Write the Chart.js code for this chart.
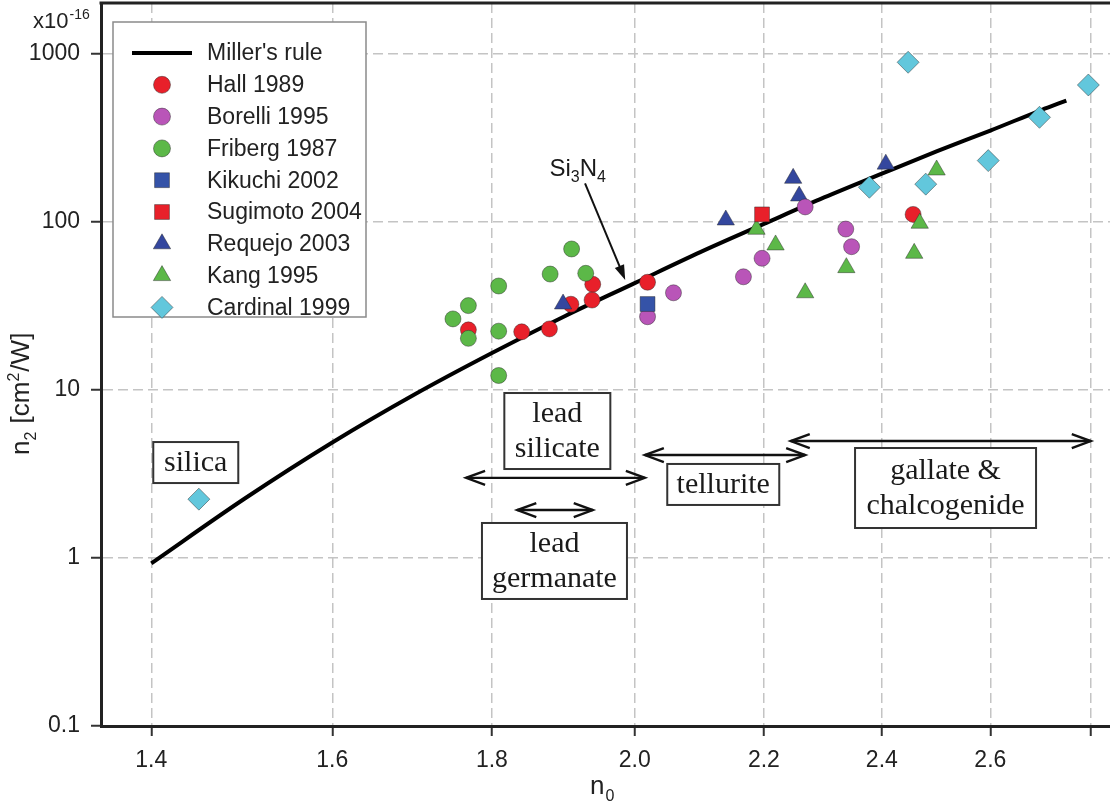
<!DOCTYPE html>
<html><head><meta charset="utf-8">
<script src="https://cdn.jsdelivr.net/npm/chart.js@4.4.1/dist/chart.umd.min.js"></script>
<style>html,body{margin:0;padding:0;background:#fff;overflow:hidden}canvas{display:block}</style>
</head><body>
<canvas id="c" width="1110" height="803"></canvas>
<script>
// ---------- data ----------
const xTicks = [1.4, 1.6, 1.8, 2.0, 2.2, 2.4, 2.6, 2.8];
const xTickLabels = ['1.4', '1.6', '1.8', '2.0', '2.2', '2.4', '2.6', ''];
const yTicks = [0.1, 1, 10, 100, 1000];
const yTickLabels = ['0.1', '1', '10', '100', '1000'];

const millerN0 = [1.4, 1.5, 1.6, 1.7, 1.8, 1.9, 2.0, 2.1, 2.2, 2.3, 2.4, 2.5, 2.6, 2.7, 2.75];
const millerN2 = [0.93, 2.26, 4.87, 9.4, 16.6, 27.6, 43.3, 66.4, 97.4, 140, 194, 264, 350, 464, 528];

const hallN0 = [1.769, 1.840, 1.878, 1.908, 1.939, 1.938, 2.019, 2.456];
const hallN2 = [22.8, 22.2, 23.1, 32.4, 42.6, 34.3, 43.8, 111];
const borelliN0 = [2.019, 2.058, 2.167, 2.197, 2.268, 2.337, 2.347];
const borelliN2 = [27.3, 37.9, 47.2, 60.8, 123, 90.8, 71.3];
const fribergN0 = [1.909, 1.879, 1.929, 1.809, 1.769, 1.749, 1.809, 1.769, 1.809];
const fribergN2 = [69.1, 49.0, 49.5, 41.6, 31.8, 26.5, 22.4, 20.3, 12.2];
const kikuchiN0 = [2.019];
const kikuchiN2 = [32.5];
const sugimotoN0 = [2.197];
const sugimotoN2 = [111];
const requejoN0 = [1.897, 2.139, 2.248, 2.258, 2.407];
const requejoN2 = [32.5, 102.8, 182, 142.8, 221];
const kangN0 = [2.188, 2.219, 2.268, 2.338, 2.458, 2.468, 2.499];
const kangN2 = [90.5, 73.0, 37.9, 53.5, 65.1, 98.3, 204];
const cardinalN0 = [1.450, 2.378, 2.479, 2.596, 2.696, 2.795, 2.447];
const cardinalN2 = [2.24, 161, 168, 232, 420, 654, 893];

// ---------- styling / layout ----------
const SANS = "'Liberation Sans', Arial, sans-serif";
const SERIF = "'Liberation Serif', 'Times New Roman', serif";
const X_MIN = 1.349, X_MAX = 2.84, Y_MIN = 0.1, Y_MAX = 2012;
const AREA = {left: 101, right: 1110, top: 3, bottom: 726};

const pts = (xs, ys) => xs.map((v, i) => ({x: v, y: ys[i]}));

function scatterSet(label, xs, ys, style, color, radius, order) {
  return {
    type: 'scatter', label, data: pts(xs, ys), pointStyle: style,
    backgroundColor: color, borderColor: 'rgba(40,40,40,0.45)', borderWidth: 1,
    pointRadius: radius, pointHoverRadius: radius, order
  };
}

const datasets = [
  {type: 'line', label: "Miller's rule", data: pts(millerN0, millerN2), borderColor: '#000',
   backgroundColor: '#000', borderWidth: 4, pointRadius: 0, fill: false,
   cubicInterpolationMode: 'monotone', order: 20},
  scatterSet('Hall 1989', hallN0, hallN2, 'circle', '#e8202a', 8, 9),
  scatterSet('Borelli 1995', borelliN0, borelliN2, 'circle', '#b955b8', 8, 7),
  scatterSet('Friberg 1987', fribergN0, fribergN2, 'circle', '#5cb848', 8, 6),
  scatterSet('Kikuchi 2002', kikuchiN0, kikuchiN2, 'rect', '#3553a8', 10.5, 4),
  scatterSet('Sugimoto 2004', sugimotoN0, sugimotoN2, 'rect', '#e8202a', 10.5, 3),
  scatterSet('Requejo 2003', requejoN0, requejoN2, 'triangle', '#34479e', 10, 8),
  scatterSet('Kang 1995', kangN0, kangN2, 'triangle', '#5cb848', 10, 5),
  scatterSet('Cardinal 1999', cardinalN0, cardinalN2, 'rectRot', '#62c7dc', 11, 2)
];

// annotation boxes / arrows placed in data coordinates
const annoBoxes = [
  {lines: ['silica'], n0: 1.4467, n2: 3.70, w: 85, h: 41},
  {lines: ['lead', 'silicate'], n0: 1.889, n2: 5.70, w: 106, h: 76},
  {lines: ['lead', 'germanate'], n0: 1.885, n2: 0.96, w: 145, h: 76},
  {lines: ['tellurite'], n0: 2.135, n2: 2.74, w: 112, h: 41},
  {lines: ['gallate &', 'chalcogenide'], n0: 2.5155, n2: 2.61, w: 181, h: 80}
];
const annoArrows = [
  {from: 1.766, to: 2.015, n2: 3.0},
  {from: 1.834, to: 1.939, n2: 1.93},
  {from: 2.015, to: 2.268, n2: 4.1},
  {from: 2.244, to: 2.80, n2: 4.97}
];
const si3n4 = {labelN0: 1.878, labelN2: 188, tailN0: 1.928, tailN2: 170, tipN0: 1.986, tipN2: 45.2};

function drawMarker(ctx, style, x, y, r, fill) {
  ctx.save();
  ctx.fillStyle = fill; ctx.strokeStyle = 'rgba(40,40,40,0.45)'; ctx.lineWidth = 1;
  ctx.beginPath();
  if (style === 'circle') ctx.arc(x, y, r, 0, Math.PI * 2);
  else if (style === 'rect') { const s = r * Math.SQRT1_2; ctx.rect(x - s, y - s, 2 * s, 2 * s); }
  else if (style === 'triangle') {
    for (let k = 0; k < 3; k++) {
      const a = k * 2 * Math.PI / 3;
      const px = x + Math.sin(a) * r, py = y - Math.cos(a) * r;
      k ? ctx.lineTo(px, py) : ctx.moveTo(px, py);
    }
    ctx.closePath();
  } else if (style === 'rectRot') {
    ctx.moveTo(x, y - r); ctx.lineTo(x + r, y); ctx.lineTo(x, y + r); ctx.lineTo(x - r, y); ctx.closePath();
  }
  ctx.fill(); ctx.stroke();
  ctx.restore();
}

function openHead(ctx, x, y, dir) {
  ctx.beginPath();
  ctx.moveTo(x - dir * 19, y - 7); ctx.lineTo(x, y); ctx.lineTo(x - dir * 19, y + 7);
  ctx.stroke();
}

// pin the plot area to the reference frame
const pinArea = {
  id: 'pinArea',
  afterLayout(chart) {
    const a = chart.chartArea;
    a.left = AREA.left; a.right = AREA.right; a.top = AREA.top; a.bottom = AREA.bottom;
    a.width = AREA.right - AREA.left; a.height = AREA.bottom - AREA.top;
    const xs = chart.scales.x, ys = chart.scales.y;
    xs.left = AREA.left; xs.right = AREA.right; xs.width = a.width;
    xs.top = AREA.bottom; xs.bottom = chart.height; xs.height = chart.height - AREA.bottom;
    ys.left = 0; ys.right = AREA.left; ys.width = AREA.left;
    ys.top = AREA.top; ys.bottom = AREA.bottom; ys.height = a.height;
    xs.configure(); ys.configure();
  }
};

const overlay = {
  id: 'overlay',
  afterDraw(chart) {
    const ctx = chart.ctx, a = chart.chartArea, xs = chart.scales.x, ys = chart.scales.y;
    ctx.save();
    // top frame line
    ctx.strokeStyle = '#222'; ctx.lineWidth = 3;
    ctx.beginPath(); ctx.moveTo(a.left - 1.5, a.top); ctx.lineTo(a.right, a.top); ctx.stroke();

    // double arrows
    ctx.strokeStyle = '#111'; ctx.lineWidth = 2.4;
    annoArrows.forEach(ar => {
      const x1 = xs.getPixelForValue(ar.from), x2 = xs.getPixelForValue(ar.to), y = ys.getPixelForValue(ar.n2);
      ctx.beginPath(); ctx.moveTo(x1, y); ctx.lineTo(x2, y); ctx.stroke();
      openHead(ctx, x1, y, -1); openHead(ctx, x2, y, 1);
    });

    // boxes with serif text
    annoBoxes.forEach(b => {
      const cx = xs.getPixelForValue(b.n0), cy = ys.getPixelForValue(b.n2);
      ctx.fillStyle = '#fff'; ctx.fillRect(cx - b.w / 2, cy - b.h / 2, b.w, b.h);
      ctx.strokeStyle = '#333'; ctx.lineWidth = 2;
      ctx.strokeRect(cx - b.w / 2, cy - b.h / 2, b.w, b.h);
      ctx.fillStyle = '#1a1a1a'; ctx.font = '30px ' + SERIF;
      ctx.textAlign = 'center'; ctx.textBaseline = 'middle';
      const lh = 35, n = b.lines.length;
      b.lines.forEach((t, i) => ctx.fillText(t, cx, cy + (i - (n - 1) / 2) * lh + 1));
    });

    // Si3N4 label and arrow
    {
      let x = xs.getPixelForValue(si3n4.labelN0), y = ys.getPixelForValue(si3n4.labelN2);
      ctx.fillStyle = '#1a1a1a'; ctx.textAlign = 'left'; ctx.textBaseline = 'alphabetic';
      const parts = [['Si', 24, 0], ['3', 16, 6], ['N', 24, 0], ['4', 16, 6]];
      parts.forEach(p => { ctx.font = p[1] + 'px ' + SANS; ctx.fillText(p[0], x, y + p[2]); x += ctx.measureText(p[0]).width; });
      const tx = xs.getPixelForValue(si3n4.tailN0), ty = ys.getPixelForValue(si3n4.tailN2);
      const hx = xs.getPixelForValue(si3n4.tipN0), hy = ys.getPixelForValue(si3n4.tipN2);
      const ang = Math.atan2(hy - ty, hx - tx);
      ctx.strokeStyle = '#111'; ctx.lineWidth = 2;
      ctx.beginPath(); ctx.moveTo(tx, ty); ctx.lineTo(hx - Math.cos(ang) * 10, hy - Math.sin(ang) * 10); ctx.stroke();
      ctx.fillStyle = '#111'; ctx.beginPath();
      ctx.moveTo(hx, hy);
      ctx.lineTo(hx - Math.cos(ang) * 15 + Math.sin(ang) * 5, hy - Math.sin(ang) * 15 - Math.cos(ang) * 5);
      ctx.lineTo(hx - Math.cos(ang) * 15 - Math.sin(ang) * 5, hy - Math.sin(ang) * 15 + Math.cos(ang) * 5);
      ctx.closePath(); ctx.fill();
    }

    // legend
    const L = {x: 113, y: 22, w: 253, h: 295, row0: 53, dy: 31.8, mx: 162, tx: 207};
    ctx.fillStyle = '#fff'; ctx.fillRect(L.x, L.y, L.w, L.h);
    ctx.strokeStyle = '#8a8a8a'; ctx.lineWidth = 1.5; ctx.strokeRect(L.x, L.y, L.w, L.h);
    chart.data.datasets.forEach((d, i) => {
      const y = L.row0 + i * L.dy;
      if (d.type === 'line') {
        ctx.strokeStyle = '#000'; ctx.lineWidth = 4;
        ctx.beginPath(); ctx.moveTo(132, y); ctx.lineTo(192, y); ctx.stroke();
      } else {
        drawMarker(ctx, d.pointStyle, L.mx, y, d.pointStyle === 'circle' ? 8.5 : d.pointStyle === 'rect' ? 10.5 : d.pointStyle === 'triangle' ? 10 : 11, d.backgroundColor);
      }
      ctx.fillStyle = '#222'; ctx.font = '23px ' + SANS; ctx.textAlign = 'left'; ctx.textBaseline = 'middle';
      ctx.fillText(d.label, L.tx, y + 1);
    });

    // x10^-16 multiplier
    ctx.fillStyle = '#222'; ctx.textAlign = 'left'; ctx.textBaseline = 'alphabetic';
    ctx.font = '22px ' + SANS; ctx.fillText('x10', 33, 28);
    const w10 = ctx.measureText('x10').width;
    ctx.font = '14px ' + SANS; ctx.fillText('-16', 33 + w10 + 1, 19);

    // x axis title n0
    ctx.font = '26px ' + SANS; ctx.fillText('n', 590, 794);
    const wn = ctx.measureText('n').width;
    ctx.font = '16px ' + SANS; ctx.fillText('0', 590 + wn + 1, 801);

    // y axis title n2 [cm2/W]
    ctx.translate(29, 455); ctx.rotate(-Math.PI / 2);
    let px = 0;
    const yparts = [['n', 26, 0], ['2', 16, 7], [' [cm', 26, 0], ['2', 16, -10], ['/W]', 26, 0]];
    yparts.forEach(p => { ctx.font = p[1] + 'px ' + SANS; ctx.fillText(p[0], px, p[2]); px += ctx.measureText(p[0]).width + (p[1] === 16 ? 1 : 0); });
    ctx.restore();
  }
};

new Chart(document.getElementById('c'), {
  type: 'scatter',
  data: {datasets},
  options: {
    responsive: false, animation: false, events: [],
    layout: {padding: {top: 3, right: 0, left: 0, bottom: 0}},
    plugins: {legend: {display: false}, tooltip: {enabled: false}},
    scales: {
      x: {
        type: 'logarithmic', position: 'bottom', min: X_MIN, max: X_MAX, bounds: 'data',
        afterBuildTicks: s => { s.ticks = xTicks.map(v => ({value: v})); },
        ticks: {autoSkip: false, maxRotation: 0, minRotation: 0, padding: 11, color: '#222',
                font: {family: SANS, size: 23}, callback: (v, i) => xTickLabels[i]},
        grid: {color: '#c4c4c4', lineWidth: 1.5, drawTicks: true, tickLength: 10, tickColor: '#333', tickWidth: 2},
        border: {display: true, color: '#222', width: 3, dash: [10, 5]},
        title: {display: false}
      },
      y: {
        type: 'logarithmic', position: 'left', min: Y_MIN, max: Y_MAX, bounds: 'data',
        afterBuildTicks: s => { s.ticks = yTicks.map(v => ({value: v})); },
        ticks: {autoSkip: false, padding: 11, color: '#222', font: {family: SANS, size: 23},
                callback: (v, i) => yTickLabels[i]},
        grid: {color: '#c4c4c4', lineWidth: 1.5, drawTicks: true, tickLength: 10, tickColor: '#333', tickWidth: 2},
        border: {display: true, color: '#222', width: 3, dash: [10, 5]},
        title: {display: false}
      }
    }
  },
  plugins: [pinArea, overlay]
});
</script>
</body></html>
